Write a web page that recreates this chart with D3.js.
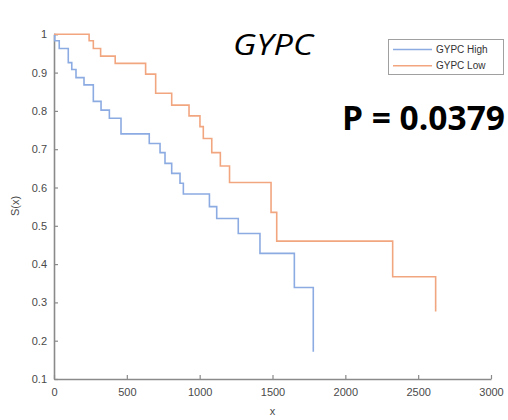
<!DOCTYPE html>
<html>
<head>
<meta charset="utf-8">
<script src="https://cdn.jsdelivr.net/npm/d3@7"></script>
<style>
  html, body { margin: 0; padding: 0; background: #fff; }
  svg { display: block; }
</style>
</head>
<body>
<div id="chart"></div>
<script>
// survival curve data (time, S(x))
const highTimes = [0, 5, 36, 98, 122, 151, 206, 270, 323, 380, 460, 654, 728, 762, 808, 865, 888, 1067, 1117, 1265, 1414, 1650, 1780]
const highSurv = [1, 0.983, 0.963, 0.926, 0.908, 0.887, 0.868, 0.825, 0.802, 0.781, 0.74, 0.715, 0.691, 0.663, 0.637, 0.611, 0.583, 0.55, 0.519, 0.48, 0.428, 0.339, 0.171]
const lowTimes = [0, 241, 270, 320, 420, 629, 698, 808, 927, 1002, 1025, 1083, 1142, 1205, 1490, 1529, 2325, 2620]
const lowSurv = [1, 0.983, 0.963, 0.943, 0.924, 0.896, 0.846, 0.815, 0.787, 0.759, 0.728, 0.691, 0.656, 0.613, 0.535, 0.46, 0.367, 0.276]

const xTicks = [0, 500, 1000, 1500, 2000, 2500, 3000]
const yTicks = [0.1, 0.2, 0.3, 0.4, 0.5, 0.6, 0.7, 0.8, 0.9, 1]
const seriesNames = ['GYPC High', 'GYPC Low']
const seriesColors = ['#8cabe2', '#f2a680']

const width = 508
const height = 420

const svg = d3.select('#chart').append('svg')
  .attr('width', width)
  .attr('height', height)

const x = d3.scaleLinear().domain([0, 3000]).range([54, 491])
const y = d3.scaleLinear().domain([0.1, 1]).range([379, 34.3])

const axisColor = '#8a8a8a'
const labelColor = '#4a4a4a'

// bottom axis, ticks pointing inward
const xAxis = svg.append('g')
  .attr('transform', `translate(0,${y(0.1)})`)
  .call(d3.axisBottom(x).tickValues(xTicks).tickSize(-4).tickPadding(9).tickSizeOuter(0).tickFormat(d3.format('d')))
xAxis.select('.domain').attr('stroke', axisColor).attr('stroke-width', 1.6)
xAxis.selectAll('.tick line').attr('stroke', axisColor).attr('stroke-width', 1.2)
xAxis.selectAll('.tick text')
  .attr('fill', labelColor)
  .attr('font-family', 'Liberation Sans, Arial, sans-serif')
  .attr('font-size', 11)

// left axis
const yAxis = svg.append('g')
  .attr('transform', `translate(${x(0)},0)`)
  .call(d3.axisLeft(y).tickValues(yTicks).tickSize(-4).tickPadding(7).tickSizeOuter(0).tickFormat(d => d === 1 ? '1' : d3.format('.1f')(d)))
yAxis.select('.domain').attr('stroke', axisColor).attr('stroke-width', 1.6)
yAxis.selectAll('.tick line').attr('stroke', axisColor).attr('stroke-width', 1.2)
yAxis.selectAll('.tick text')
  .attr('fill', labelColor)
  .attr('font-family', 'Liberation Sans, Arial, sans-serif')
  .attr('font-size', 11)

// axis labels
svg.append('text')
  .attr('x', x(1500))
  .attr('y', 415)
  .attr('text-anchor', 'middle')
  .attr('fill', labelColor)
  .attr('font-family', 'Liberation Sans, Arial, sans-serif')
  .attr('font-size', 11)
  .text('x')

svg.append('text')
  .attr('transform', 'translate(19,206) rotate(-90)')
  .attr('text-anchor', 'middle')
  .attr('fill', labelColor)
  .attr('font-family', 'Liberation Sans, Arial, sans-serif')
  .attr('font-size', 11)
  .text('S(x)')

// step curves
const line = d3.line()
  .x(d => x(d[0]))
  .y(d => y(d[1]))
  .curve(d3.curveStepAfter)

const series = [
  d3.zip(highTimes, highSurv),
  d3.zip(lowTimes, lowSurv),
]

svg.append('g')
  .selectAll('path')
  .data(series)
  .join('path')
  .attr('d', line)
  .attr('fill', 'none')
  .attr('stroke', (d, i) => seriesColors[i])
  .attr('stroke-width', 1.6)

// title and p value
svg.append('text')
  .attr('x', 273)
  .attr('y', 55)
  .attr('text-anchor', 'middle')
  .attr('font-family', 'Open Sans, sans-serif')
  .attr('font-style', 'italic')
  .attr('font-size', 30)
  .attr('textLength', 80)
  .attr('lengthAdjust', 'spacingAndGlyphs')
  .attr('fill', '#000')
  .text('GYPC')

svg.append('text')
  .attr('x', 342)
  .attr('y', 130)
  .attr('font-family', 'Open Sans, sans-serif')
  .attr('font-weight', 'bold')
  .attr('font-size', 34)
  .attr('textLength', 163)
  .attr('lengthAdjust', 'spacingAndGlyphs')
  .attr('fill', '#000')
  .text('P = 0.0379')

// legend
const legend = svg.append('g')
legend.append('rect')
  .attr('x', 388.5)
  .attr('y', 39.5)
  .attr('width', 115)
  .attr('height', 35)
  .attr('fill', '#fff')
  .attr('stroke', '#a0a0a0')
  .attr('stroke-width', 1)

const legendRows = legend.selectAll('g.row')
  .data(seriesNames)
  .join('g')
  .attr('class', 'row')
  .attr('transform', (d, i) => `translate(0,${49.5 + i * 16.3})`)

legendRows.append('line')
  .attr('x1', 393)
  .attr('x2', 432)
  .attr('stroke', (d, i) => seriesColors[i])
  .attr('stroke-width', 1.4)

legendRows.append('text')
  .attr('x', 436)
  .attr('y', 3.5)
  .attr('fill', '#333')
  .attr('font-family', 'Liberation Sans, Arial, sans-serif')
  .attr('font-size', 10)
  .text(d => d)
</script>
</body>
</html>
